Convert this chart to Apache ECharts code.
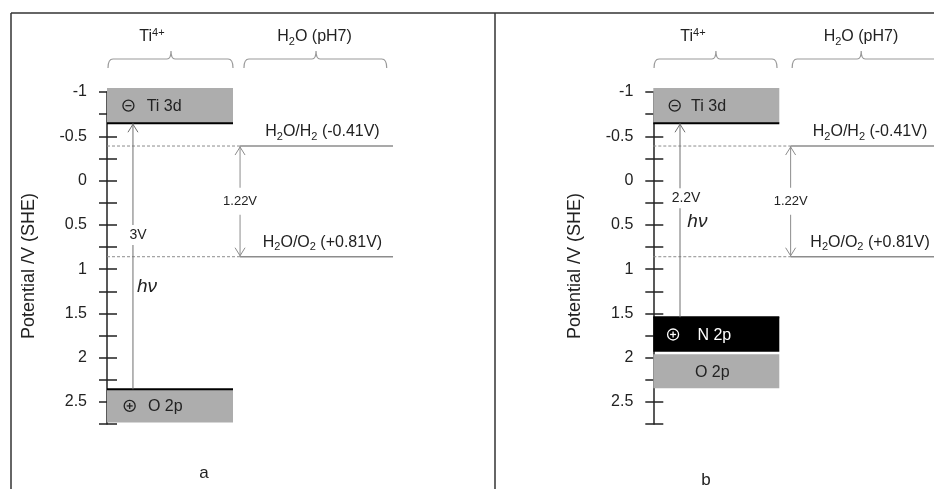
<!DOCTYPE html>
<html>
<head>
<meta charset="utf-8">
<script src="https://cdn.jsdelivr.net/npm/echarts@6/dist/echarts.min.js"></script>
<style>
  html, body { margin: 0; padding: 0; background: #fff; }
  #chart { width: 934px; height: 489px; }
</style>
</head>
<body>
<div id="chart"></div>
<script>
// potentials in V vs SHE
var tickLabels = [-1, -0.5, 0, 0.5, 1, 1.5, 2, 2.5];

var bandNamesA = ['Ti 3d', 'O 2p'];
var bandTopA = [-1.045, 2.357];
var bandBottomA = [-0.647, 2.733];

var bandNamesB = ['Ti 3d', 'N 2p', 'O 2p'];
var bandTopB = [-1.045, 1.544, 1.962];
var bandBottomB = [-0.647, 1.932, 2.346];

var redoxNames = ['H{s|2}O/H{s|2} (-0.41V)', 'H{s|2}O/O{s|2} (+0.81V)'];
var redoxLevels = [-0.39, 0.86];
var redoxGapLabel = '1.22V';

var gapLabels = ['3V', '2.2V'];
var columnLabels = ['Ti{p|4+}', 'H{s|2}O (pH7)'];
var panelLabels = ['a', 'b'];

var FONT = '"Liberation Sans", Arial, sans-serif';
var TEXT = '#222';

// layout: x in "column" units (1 = width of the Ti column)
var COL = 126;
var XMAX = 2.3;
var panels = [
  {
    left: 107, names: bandNamesA, tops: bandTopA, bottoms: bandBottomA,
    signs: ['-', '+'], signX: [0.17, 0.18], textX: [0.315, 0.325],
    gapX: 0.206, gapLabelAt: [0.246, 0.615], hvAt: [0.317, 1.2],
    redoxX: 1.056, redoxLabelX: 1.71, lineEnd: 2.27,
    brackets: [[0.008, 1.0, 0.508, 0.357], [1.087, 2.22, 1.659, 1.647]],
    tag: [204, 473]
  },
  {
    left: 653.3, names: bandNamesB, tops: bandTopB, bottoms: bandBottomB,
    signs: ['-', '+', null], signX: [0.17, 0.157, 0], textX: [0.3, 0.35, 0.33],
    gapX: 0.212, gapLabelAt: [0.26, 0.2], hvAt: [0.35, 0.47],
    redoxX: 1.09, redoxLabelX: 1.72, lineEnd: 2.3,
    brackets: [[0.006, 0.982, 0.497, 0.315], [1.102, 2.4, 1.65, 1.648]],
    tag: [706, 480]
  }
];

function richStyles(size, ink) {
  var small = Math.round(size * 0.7);
  return {
    s: { fontSize: small, fontFamily: FONT, fill: ink, verticalAlign: 'bottom', lineHeight: 10 },
    p: { fontSize: small, fontFamily: FONT, fill: ink, verticalAlign: 'top', lineHeight: 14 }
  };
}

function label(text, x, y, size, extra) {
  var style = {
    text: text, x: x, y: y, fontSize: size, fontFamily: FONT, fill: TEXT,
    align: 'center', verticalAlign: 'middle', lineHeight: 20, rich: richStyles(size, TEXT)
  };
  for (var k in extra) style[k] = extra[k];
  return { type: 'text', z2: 10, style: style };
}

function head(x, y, dir, color) {
  return {
    type: 'polyline', z2: 5,
    shape: { points: [[x - 5, y + dir * 8], [x, y], [x + 5, y + dir * 8]] },
    style: { stroke: color, lineWidth: 1, fill: 'none' }
  };
}

function fmt(v) {
  for (var i = 0; i < tickLabels.length; i++) {
    if (Math.abs(tickLabels[i] - v) < 1e-6) return String(tickLabels[i]);
  }
  return '';
}

var grids = [], xAxes = [], yAxes = [], series = [];

panels.forEach(function (p, gi) {
  grids.push({ left: p.left, top: 92, width: XMAX * COL, height: 332.1, containLabel: false, outerBoundsMode: 'none' });
  xAxes.push({ gridIndex: gi, type: 'value', min: 0, max: XMAX, show: false });

  var base = {
    gridIndex: gi, type: 'value', position: 'left', offset: 0,
    min: -1, max: 2.75, interval: 0.25, inverse: true, splitLine: { show: false }
  };
  var tickStyle = { color: '#222', width: 1.5 };
  yAxes.push(Object.assign({}, base, {
    name: 'Potential /V (SHE)', nameLocation: 'middle', nameGap: 69,
    nameTextStyle: { fontSize: 18, color: TEXT, fontFamily: FONT, padding: [0, 16, 0, 0] },
    axisLine: { show: true, lineStyle: tickStyle },
    axisTick: { show: true, length: 8, lineStyle: tickStyle },
    axisLabel: { show: true, margin: 20, fontSize: 16, color: TEXT, fontFamily: FONT, padding: [12, 0, 0, 0], formatter: fmt }
  }));
  yAxes.push(Object.assign({}, base, {
    axisLine: { show: false },
    axisTick: { show: true, inside: true, length: 10, lineStyle: tickStyle },
    axisLabel: { show: false }
  }));

  var yi = gi * 2;

  // energy bands
  series.push({
    type: 'custom', xAxisIndex: gi, yAxisIndex: yi, z: 3, clip: false, silent: true,
    data: p.names.map(function (n, i) { return [i, p.tops[i], p.bottoms[i]]; }),
    renderItem: function (params, api) {
      var i = params.dataIndex;
      var a = api.coord([0, api.value(1)]);
      var b = api.coord([1, api.value(2)]);
      var name = p.names[i];
      var dark = name === 'N 2p';
      var ink = dark ? '#fff' : TEXT;
      var midY = (a[1] + b[1]) / 2;
      var kids = [{
        type: 'rect', shape: { x: a[0], y: a[1], width: b[0] - a[0], height: b[1] - a[1] },
        style: { fill: dark ? '#000' : '#adadad' }
      }];
      var edgeY = i === 0 ? b[1] : (i === 1 ? a[1] : null);
      if (edgeY !== null) {
        kids.push({ type: 'line', z2: 3, shape: { x1: a[0], y1: edgeY, x2: b[0], y2: edgeY }, style: { stroke: '#000', lineWidth: 2 } });
      }
      var sg = p.signs[i];
      if (sg) {
        var cx = api.coord([p.signX[i], 0])[0];
        kids.push({ type: 'circle', z2: 4, shape: { cx: cx, cy: midY, r: 5.5 }, style: { fill: 'none', stroke: ink, lineWidth: 1.3 } });
        kids.push({ type: 'line', z2: 4, shape: { x1: cx - 3, y1: midY, x2: cx + 3, y2: midY }, style: { stroke: ink, lineWidth: 1.3 } });
        if (sg === '+') {
          kids.push({ type: 'line', z2: 4, shape: { x1: cx, y1: midY - 3, x2: cx, y2: midY + 3 }, style: { stroke: ink, lineWidth: 1.3 } });
        }
      }
      var tx = api.coord([p.textX[i], 0])[0];
      kids.push(label(name, tx, midY + 1, 16, { align: 'left', fill: ink }));
      return { type: 'group', children: kids };
    }
  });

  // water redox levels
  series.push({
    type: 'custom', xAxisIndex: gi, yAxisIndex: yi, z: 2, clip: false, silent: true,
    data: redoxLevels.map(function (v, i) { return [i, v]; }),
    renderItem: function (params, api) {
      var i = params.dataIndex, v = api.value(1);
      var s = api.coord([0, v]), m = api.coord([p.redoxX, v]), e = api.coord([p.lineEnd, v]);
      var lx = api.coord([p.redoxLabelX, v])[0];
      return {
        type: 'group', children: [
          { type: 'line', shape: { x1: s[0], y1: s[1], x2: m[0], y2: m[1] }, style: { stroke: '#8c8c8c', lineWidth: 1, lineDash: [3, 2] } },
          { type: 'line', shape: { x1: m[0], y1: m[1], x2: e[0], y2: e[1] }, style: { stroke: '#8c8c8c', lineWidth: 1.5 } },
          label(redoxNames[i], lx, s[1] - 14, 16)
        ]
      };
    }
  });

  // arrows: band gap and water window
  series.push({
    type: 'custom', xAxisIndex: gi, yAxisIndex: yi, z: 4, clip: false, silent: true,
    data: [[0, p.bottoms[0], p.tops[1]], [1, redoxLevels[0], redoxLevels[1]]],
    renderItem: function (params, api) {
      var i = params.dataIndex;
      var x = i === 0 ? p.gapX : p.redoxX;
      var col = i === 0 ? '#6e6e6e' : '#8c8c8c';
      var t = api.coord([x, api.value(1)]), b = api.coord([x, api.value(2)]);
      var kids = [
        { type: 'line', shape: { x1: t[0], y1: t[1], x2: b[0], y2: b[1] }, style: { stroke: col, lineWidth: 1 } },
        head(t[0], t[1] + 1, 1, col)
      ];
      if (i === 0) {
        var lp = api.coord(p.gapLabelAt), hp = api.coord(p.hvAt);
        kids.push(label(gapLabels[gi], lp[0], lp[1], 14, { backgroundColor: '#fff', padding: [3, 1], lineHeight: 14 }));
        kids.push(label('h\u03bd', hp[0], hp[1], 19, { fontStyle: 'italic' }));
      } else {
        kids.push(head(b[0], b[1] - 1, -1, col));
        kids.push(label(redoxGapLabel, t[0], (t[1] + b[1]) / 2, 13, { backgroundColor: '#fff', padding: [7, 2], lineHeight: 13 }));
      }
      return { type: 'group', children: kids };
    }
  });

  // column braces with headings
  series.push({
    type: 'custom', xAxisIndex: gi, yAxisIndex: yi, z: 2, clip: false, silent: true,
    data: columnLabels.map(function (c, i) { return [i, -1]; }),
    renderItem: function (params, api) {
      var br = p.brackets[params.dataIndex];
      var top = params.coordSys.y;
      var y = top - 33;
      var x0 = api.coord([br[0], 0])[0], x1 = api.coord([br[1], 0])[0];
      var xm = api.coord([br[2], 0])[0], lx = api.coord([br[3], 0])[0];
      var d = 'M' + x0 + ' ' + (y + 9) + ' Q' + x0 + ' ' + y + ' ' + (x0 + 5) + ' ' + y +
        ' L' + (xm - 4) + ' ' + y + ' Q' + xm + ' ' + y + ' ' + xm + ' ' + (y - 8) +
        ' Q' + xm + ' ' + y + ' ' + (xm + 4) + ' ' + y +
        ' L' + (x1 - 5) + ' ' + y + ' Q' + x1 + ' ' + y + ' ' + x1 + ' ' + (y + 9);
      return {
        type: 'group', children: [
          { type: 'path', shape: { pathData: d }, style: { fill: 'none', stroke: '#999', lineWidth: 1.2 } },
          label(columnLabels[params.dataIndex], lx, top - 55, 16)
        ]
      };
    }
  });
});

var frameStyle = { stroke: '#333', lineWidth: 1.5 };
var graphic = [
  { type: 'line', shape: { x1: 11, y1: 13, x2: 934, y2: 13 }, style: frameStyle },
  { type: 'line', shape: { x1: 11, y1: 13, x2: 11, y2: 489 }, style: frameStyle },
  { type: 'line', shape: { x1: 495, y1: 13, x2: 495, y2: 489 }, style: frameStyle }
];
panels.forEach(function (p, gi) {
  graphic.push({
    type: 'text', x: p.tag[0], y: p.tag[1],
    style: { text: panelLabels[gi], fontSize: 17, fontFamily: FONT, fill: TEXT, align: 'center', verticalAlign: 'middle' }
  });
});

var chart = echarts.init(document.getElementById('chart'));
chart.setOption({
  animation: false,
  backgroundColor: '#fff',
  grid: grids,
  xAxis: xAxes,
  yAxis: yAxes,
  series: series,
  graphic: graphic
});
</script>
</body>
</html>
